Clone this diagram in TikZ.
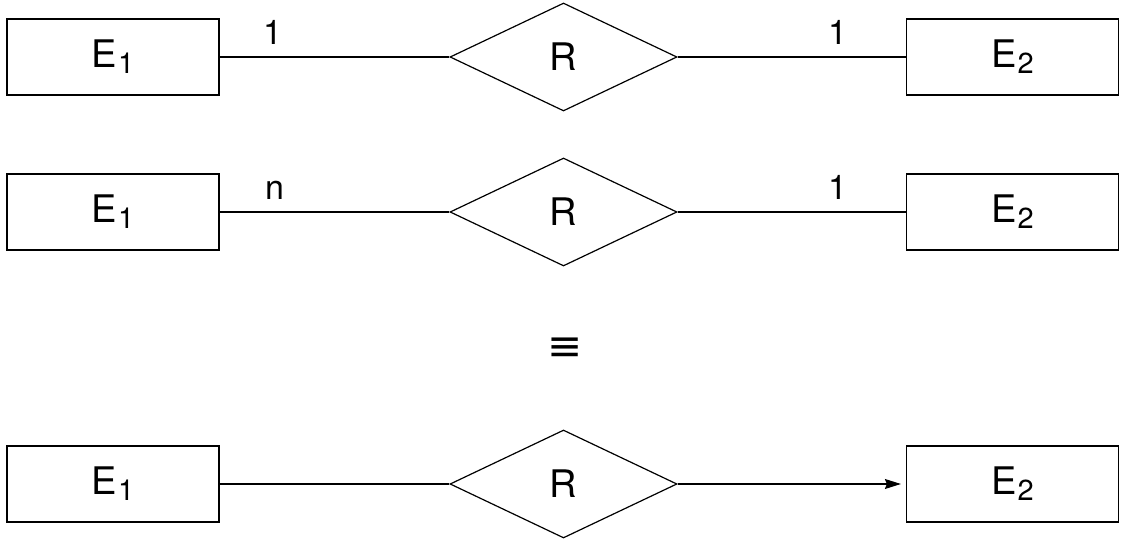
\documentclass[tikz,border=0pt]{standalone}
\usepackage{fontspec}
\setmainfont{TeX Gyre Heros}
\newfontfamily\symfont{DejaVu Sans}
\usetikzlibrary{shapes.geometric,arrows.meta}
\newcommand\esub[1]{\kern0.5pt\raisebox{-3pt}{\fontsize{14.5pt}{16pt}\selectfont #1}}
\begin{document}
\begin{tikzpicture}[x=0.5pt,y=-0.5pt,
  every node/.style={font=\fontsize{19pt}{22pt}\selectfont},
  ent/.style={draw,line width=0.6pt,rectangle,minimum width=106pt,minimum height=38pt,inner sep=0pt},
  rel/.style={draw,line width=0.6pt,diamond,minimum width=113.5pt,minimum height=54pt,inner sep=0pt,aspect=2.1},
  conn/.style={line width=0.6pt},
  card/.style={anchor=base,inner sep=0pt,font=\fontsize{17pt}{20pt}\selectfont}]
\useasboundingbox (0,0) rectangle (1125,544);
% row 1
\node[ent] (a1) at (113,57) {E\esub{1}};
\node[rel] (r1) at (563.5,57) {R};
\node[ent] (b1) at (1012.5,57) {E\esub{2}};
\draw[conn] (a1) -- (r1);
\draw[conn] (r1) -- (b1);
\node[card] (c1) at (273,45) {1};
\node[card] (c2) at (838,45) {1};
% row 2
\node[ent] (a2) at (113,212) {E\esub{1}};
\node[rel] (r2) at (563.5,212) {R};
\node[ent] (b2) at (1012.5,212) {E\esub{2}};
\draw[conn] (a2) -- (r2);
\draw[conn] (r2) -- (b2);
\node[card] (c3) at (275,200) {n};
\node[card] (c4) at (838,200) {1};
% equiv
\node (eq) at (565,349) {\symfont\fontsize{21pt}{22pt}\selectfont ≡};
% row 3
\node[ent] (a3) at (113,484) {E\esub{1}};
\node[rel] (r3) at (563.5,484) {R};
\node[ent] (b3) at (1012.5,484) {E\esub{2}};
\draw[conn] (a3) -- (r3);
\draw[conn,-{Stealth[length=8pt,width=5pt,inset=1pt]},shorten >=2.5pt] (r3) -- (b3);
\end{tikzpicture}
\end{document}
